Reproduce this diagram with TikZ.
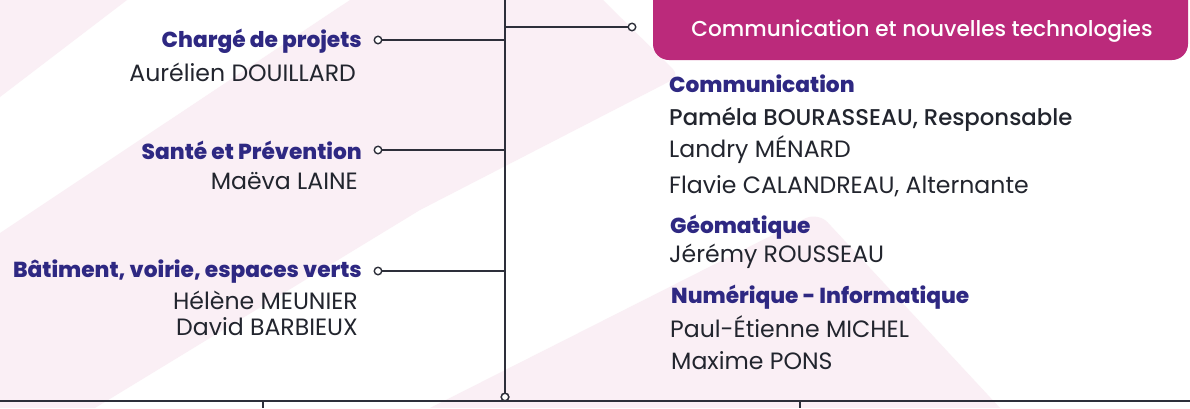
\documentclass[tikz,border=0pt]{standalone}
\usepackage{fontspec}
\setmainfont{Poppins}
\IfFontExistsTF{Poppins Medium}{\newfontfamily\popmed{Poppins Medium}}{\newfontfamily\popmed[FakeBold=0.6]{Poppins}}
\IfFontExistsTF{Poppins ExtraBold}{\newfontfamily\popheavy{Poppins ExtraBold}\def\heavysize{21.7}}{\newfontfamily\popheavy[FakeBold=0.5]{Poppins Bold}\def\heavysize{22.1}}
\definecolor{bgpink}{RGB}{250,239,245}
\definecolor{headpurple}{RGB}{46,40,130}
\definecolor{txtdark}{RGB}{34,37,46}
\definecolor{linegray}{RGB}{45,47,58}
\definecolor{boxmagenta}{RGB}{187,42,123}
\tikzset{
  conn/.style={draw=linegray, line width=1.7pt},
  dot/.style={circle, draw=linegray, fill=white, line width=1.4pt, minimum size=7.5pt, inner sep=0pt},
  lhead/.style={anchor=base east, text=headpurple, font=\fontsize{\heavysize}{26}\popheavy, inner sep=0pt},
  lname/.style={anchor=base east, text=txtdark, font=\fontsize{23.6}{28}\selectfont, inner sep=0pt},
  rhead/.style={anchor=base west, text=headpurple, font=\fontsize{\heavysize}{26}\popheavy, inner sep=0pt},
  rname/.style={anchor=base west, text=txtdark, font=\fontsize{23.6}{28}\selectfont, inner sep=0pt},
  rmed/.style={anchor=base west, text=txtdark, font=\fontsize{22.8}{28}\popmed, inner sep=0pt},
  boxtext/.style={anchor=base, text=white, font=\fontsize{21.6}{26}\popmed, inner sep=0pt}
}
\begin{document}
\begin{tikzpicture}[x=1pt,y=-1pt]
\useasboundingbox (0,0) rectangle (1190,408);
\clip (0,0) rectangle (1190,408);
\fill[white] (0,0) rectangle (1190,408);
% background bands
\fill[bgpink] (0,0) -- (127,0) -- (0,97) -- cycle;
\fill[bgpink] (350,0) -- (603,0) [rounded corners=10pt] -- (680,76) [sharp corners] -- (420,210) -- (95,408) -- (0,408) -- (0,233) -- cycle;
\fill[bgpink] (430,408) [rounded corners=14pt] -- (818,212) [sharp corners] -- (1000,408) -- cycle;
% heading box
\fill[boxmagenta, rounded corners=16pt] (653,-20) rectangle (1188,60);
\node[boxtext] (cnt) at (922,36) {Communication et nouvelles technologies};
% connectors
\coordinate (top) at (505,0);
\node[dot] (bot) at (505,397) {};
\coordinate (bl) at (0,401);
\coordinate (br) at (1190,401);
\coordinate (t1a) at (263,401);
\coordinate (t1b) at (263,408);
\coordinate (t2a) at (800,401);
\coordinate (t2b) at (800,408);
\coordinate (j0) at (505,27);
\coordinate (j1) at (505,40);
\coordinate (j2) at (505,150);
\coordinate (j3) at (505,271);
\node[dot] (d0) at (632,27) {};
\node[dot] (d1) at (378,40) {};
\node[dot] (d2) at (378,150) {};
\node[dot] (d3) at (378,271) {};
\draw[conn] (bl) -- (br);
\draw[conn] (t1a) -- (t1b);
\draw[conn] (t2a) -- (t2b);
\draw[conn] (top) -- (bot.north);
\draw[conn] (j0) -- (d0.west);
\draw[conn] (d1.east) -- (j1);
\draw[conn] (d2.east) -- (j2);
\draw[conn] (d3.east) -- (j3);
\node[dot] at (bot) {};
% left labels
\node[lhead] (h1) at (362,47.5) {Chargé de projets};
\node[lname] (n1) at (356,81) {Aurélien DOUILLARD};
\node[lhead] (h2) at (362,159) {Santé et Prévention};
\node[lname] (n2) at (358,189) {Maëva LAINE};
\node[lhead] (h3) at (362,277) {Bâtiment, voirie, espaces verts};
\node[lname] (n3) at (358,309) {Hélène MEUNIER};
\node[lname] (n4) at (358,335) {David BARBIEUX};
% right labels
\node[rhead] (r1) at (669,92) {Communication};
\node[rmed] (r2) at (669,125) {Paméla BOURASSEAU, Responsable};
\node[rname] (r3) at (669,157) {Landry MÉNARD};
\node[rname] (r4) at (669,193) {Flavie CALANDREAU, Alternante};
\node[rhead] (r5) at (670,233) {Géomatique};
\node[rname] (r6) at (669,262) {Jérémy ROUSSEAU};
\node[rhead] (r7) at (671,303) {Numérique - Informatique};
\node[rname] (r8) at (670,337) {Paul-Étienne MICHEL};
\node[rname] (r9) at (671,369) {Maxime PONS};
\end{tikzpicture}
\end{document}
